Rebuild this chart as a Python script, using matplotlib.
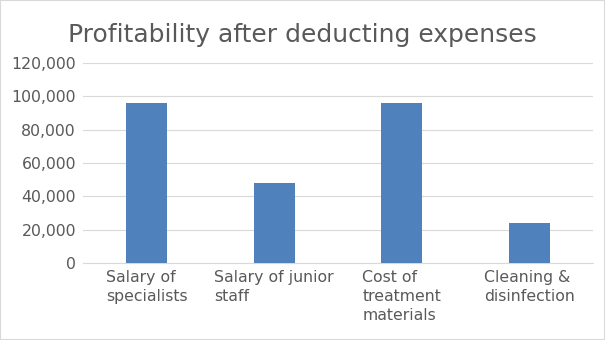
import matplotlib
matplotlib.use("Agg")
import matplotlib.pyplot as plt
from matplotlib.ticker import FuncFormatter
from matplotlib.patches import Rectangle

categories = ["Salary of\nspecialists", "Salary of junior\nstaff", "Cost of\ntreatment\nmaterials", "Cleaning &\ndisinfection"]
values = [96000, 48000, 96000, 24000]
title = "Profitability after deducting expenses"

fig = plt.figure(figsize=(6.05, 3.40), dpi=100)
fig.patches.append(Rectangle((0, 0), 1, 1, transform=fig.transFigure, fill=False,
                             edgecolor="#D9D9D9", linewidth=1.5))
ax = fig.add_axes([0.137, 0.2265, 0.843, 0.5885])
x = range(len(categories))
ax.bar(x, values, width=0.32, color="#4F81BD", zorder=3)
ax.set_xlim(-0.5, len(categories) - 0.5)
ax.set_ylim(0, 120000)
ax.set_yticks(range(0, 120001, 20000))
ax.yaxis.set_major_formatter(FuncFormatter(lambda v, p: f"{int(v):,}"))
ax.grid(axis="y", color="#D9D9D9", linewidth=0.8, zorder=0)
for s in ["top", "right", "left"]:
    ax.spines[s].set_visible(False)
ax.spines["bottom"].set_color("#D9D9D9")
ax.tick_params(axis="both", length=0, colors="#595959", labelsize=11.3)
ax.tick_params(axis="y", pad=5)
ax.set_xticks(list(x))
ax.set_xticklabels(categories, multialignment="left", linespacing=1.35)
ax.tick_params(axis="x", pad=5)
fig.text(0.5, 0.898, title, ha="center", va="center", fontsize=18, color="#595959")
fig.savefig("out.png", dpi=100)
